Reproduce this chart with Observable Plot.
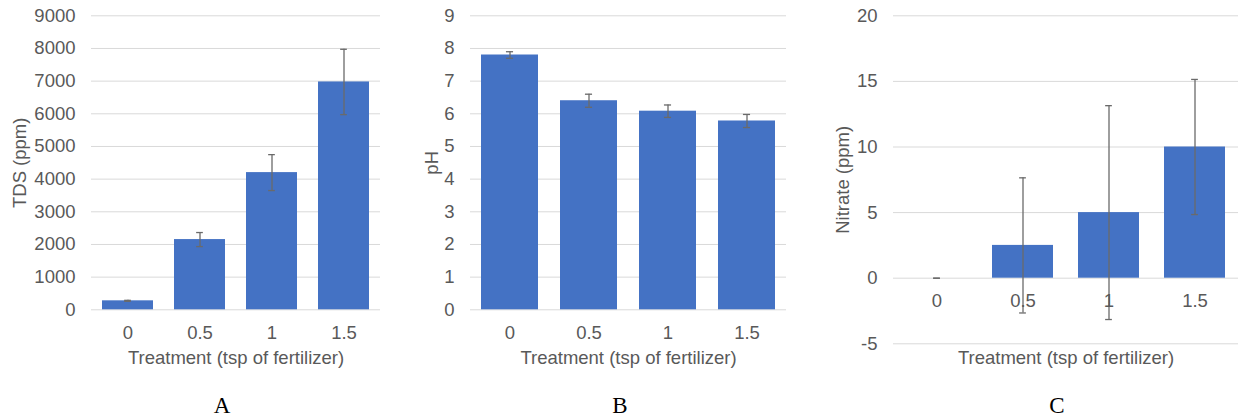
<!DOCTYPE html>
<html>
<head>
<meta charset="utf-8">
<script src="https://cdn.jsdelivr.net/npm/d3@7"></script>
<script src="https://cdn.jsdelivr.net/npm/@observablehq/plot@0.6"></script>
<style>
  body { margin: 0; background: #fff; }
  #wrap { position: relative; width: 1238px; height: 417px; overflow: hidden; font-family: "Liberation Sans", Arial, sans-serif; }
  .panel { position: absolute; top: 0; }
  .letter { position: absolute; font-family: "Liberation Serif", "Times New Roman", serif; font-size: 23px; line-height: 1; color: #000; transform: translate(-50%, -50%); }
</style>
</head>
<body>
<div id="wrap"></div>
<script>
const treatments = ["0", "0.5", "1", "1.5"];
const xLabel = "Treatment (tsp of fertilizer)";

const tdsValues = [275, 2150, 4200, 6975];
const tdsErrors = [15, 215, 550, 1000];
const tdsTicks = [0, 1000, 2000, 3000, 4000, 5000, 6000, 7000, 8000, 9000];

const phValues = [7.8, 6.4, 6.08, 5.78];
const phErrors = [0.1, 0.2, 0.19, 0.2];
const phTicks = [0, 1, 2, 3, 4, 5, 6, 7, 8, 9];

const nitrateValues = [0, 2.5, 5, 10];
const nitrateErrors = [0, 5.15, 8.15, 5.15];
const nitrateTicks = [-5, 0, 5, 10, 15, 20];

const panelLetters = ["A", "B", "C"];

const BAR = "#4472C4", GRID = "#d9d9d9", TEXT = "#595959", ERR = "#6a6a6a";
const FS = 18.5;

function panel(cfg) {
  const data = treatments.map((t, i) => ({t, v: cfg.values[i], e: cfg.errors[i]}));
  const plotW = cfg.width - cfg.ml - cfg.mr;
  const n = treatments.length;
  const step = plotW / n;
  const bw = step * (1 - cfg.pad);
  const capInset = (bw - 7) / 2;
  const marks = [
    Plot.gridY(cfg.ticks, {stroke: GRID, strokeOpacity: 1, strokeWidth: 1}),
    Plot.axisY(cfg.ticks, {tickSize: 0, tickPadding: 16, fontSize: FS, color: TEXT, label: null, tickFormat: d => String(d)}),
    Plot.barY(data, {x: "t", y: "v", fill: BAR}),
    Plot.ruleX(data, {x: "t", y1: d => d.v - d.e, y2: d => d.v + d.e, stroke: ERR, strokeWidth: 1.3}),
    Plot.tickY(data, {x: "t", y: d => d.v + d.e, stroke: ERR, strokeWidth: 1.3, insetLeft: capInset, insetRight: capInset}),
    Plot.tickY(data, {x: "t", y: d => d.v - d.e, stroke: ERR, strokeWidth: 1.3, insetLeft: capInset, insetRight: capInset}),
    Plot.text([cfg.yLabel], {frameAnchor: "left", rotate: -90, dx: cfg.yLabelDx, textAnchor: "middle", lineAnchor: "middle", fontSize: FS, fill: TEXT}),
    Plot.text([xLabel], {frameAnchor: "bottom", dy: cfg.xLabelDy, textAnchor: "middle", lineAnchor: "middle", fontSize: FS, fill: TEXT})
  ];
  if (cfg.zeroAxis) {
    marks.push(Plot.text(data, {x: "t", y: 0, text: "t", dy: 22.5, lineAnchor: "middle", fontSize: FS, fill: TEXT}));
  } else {
    marks.push(Plot.axisX({tickSize: 0, tickPadding: 16.5, fontSize: FS, color: TEXT, label: null}));
  }
  return Plot.plot({
    width: cfg.width,
    height: 370,
    marginLeft: cfg.ml,
    marginRight: cfg.mr,
    marginTop: 15.3,
    marginBottom: cfg.mb,
    style: {fontFamily: '"Liberation Sans", Arial, sans-serif', fontSize: FS + "px", color: TEXT, background: "transparent", overflow: "visible"},
    x: {domain: treatments, paddingInner: cfg.pad, paddingOuter: cfg.pad / 2, axis: null},
    y: {domain: cfg.domain, axis: null},
    marks
  });
}

const configs = [
  {left: 0, width: 400, ml: 91, mr: 20, mb: 60.7, pad: 0.29, values: tdsValues, errors: tdsErrors, ticks: tdsTicks, domain: [0, 9000], yLabel: "TDS (ppm)", yLabelDx: -71, xLabelDy: 48, letterX: 222},
  {left: 400, width: 420, ml: 70, mr: 34, mb: 60.7, pad: 0.28, values: phValues, errors: phErrors, ticks: phTicks, domain: [0, 9], yLabel: "pH", yLabelDx: -38, xLabelDy: 48, letterX: 620},
  {left: 820, width: 418, ml: 73, mr: 0, mb: 26.7, pad: 0.29, values: nitrateValues, errors: nitrateErrors, ticks: nitrateTicks, domain: [-5, 20], yLabel: "Nitrate (ppm)", yLabelDx: -50, xLabelDy: 14, letterX: 1057, zeroAxis: true}
];

const wrap = document.getElementById("wrap");
configs.forEach((cfg, i) => {
  const div = document.createElement("div");
  div.className = "panel";
  div.style.left = cfg.left + "px";
  div.appendChild(panel(cfg));
  wrap.appendChild(div);
  const letter = document.createElement("div");
  letter.className = "letter";
  letter.style.left = cfg.letterX + "px";
  letter.style.top = "405px";
  letter.textContent = panelLetters[i];
  wrap.appendChild(letter);
});
</script>
</body>
</html>
